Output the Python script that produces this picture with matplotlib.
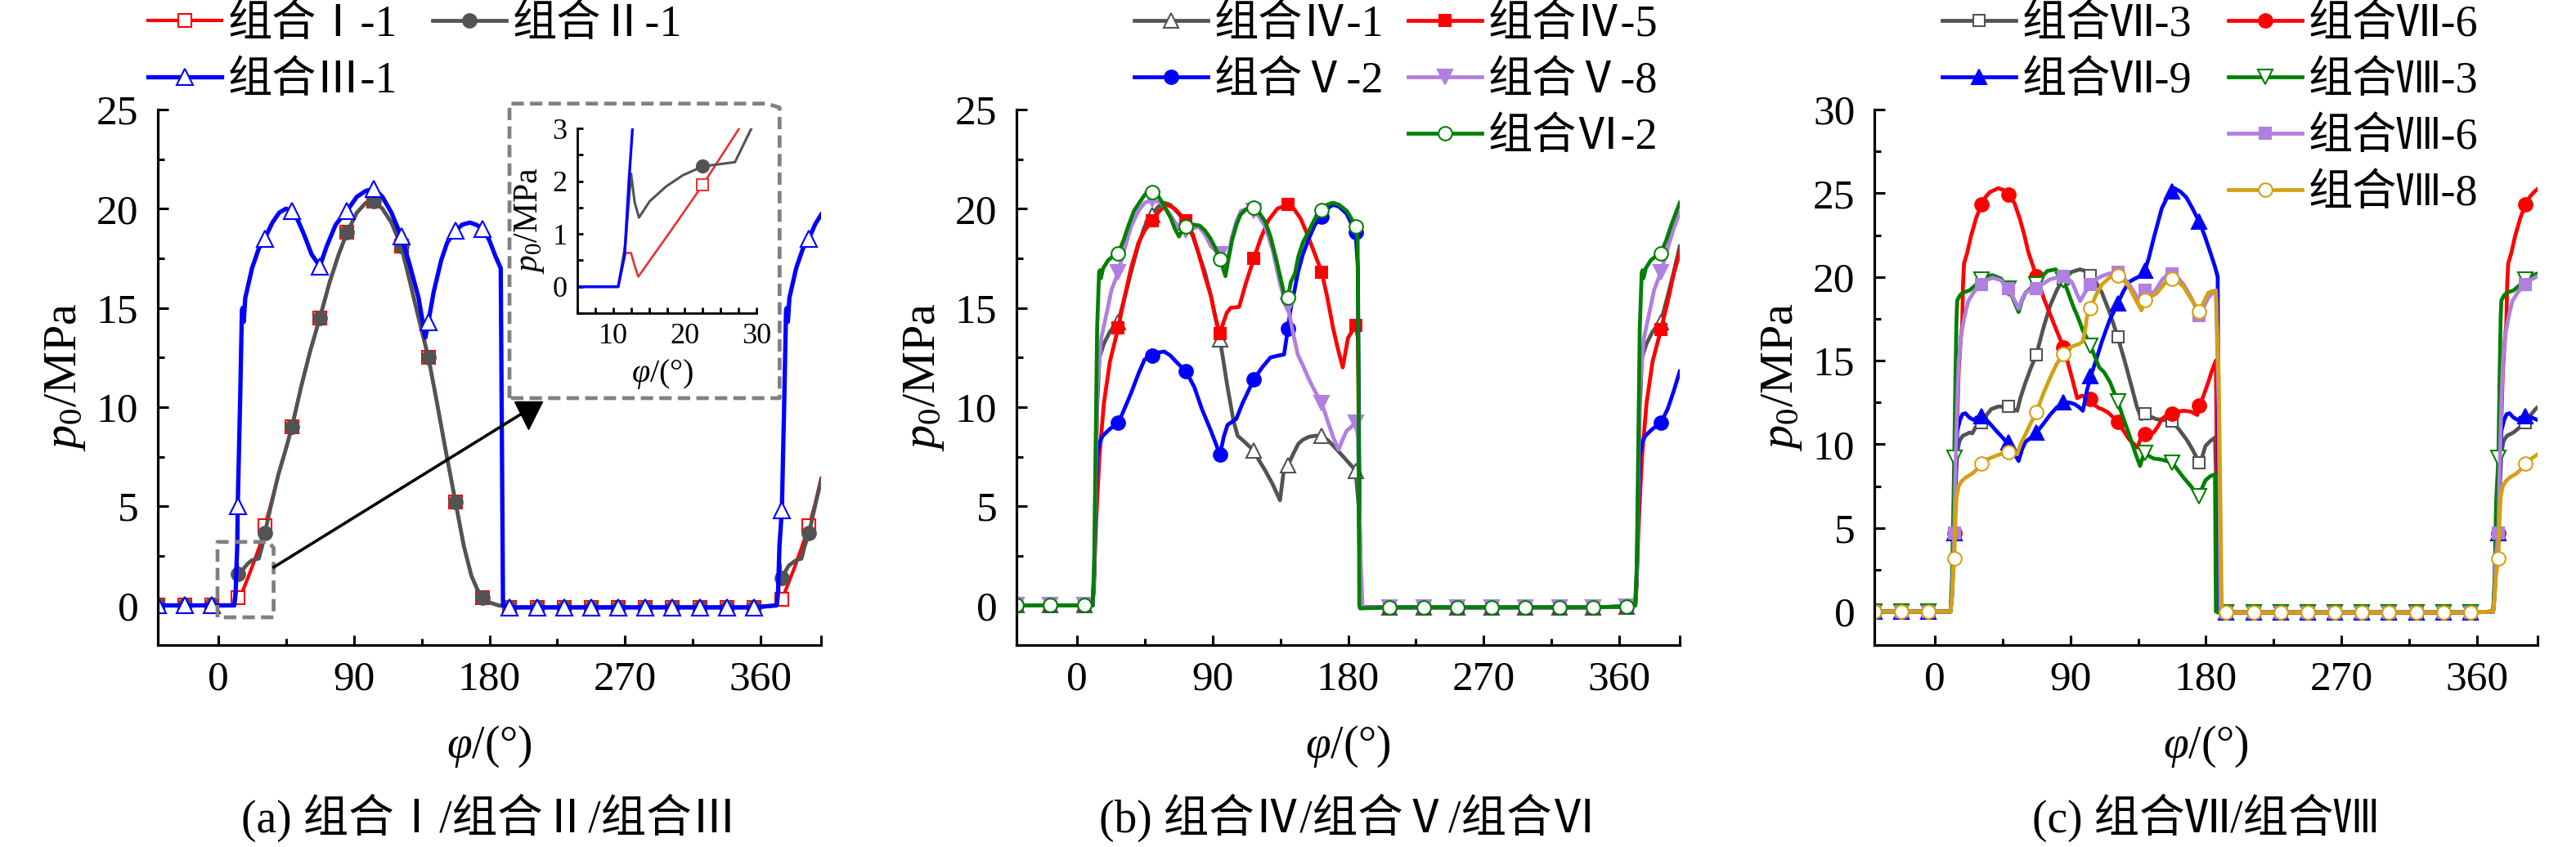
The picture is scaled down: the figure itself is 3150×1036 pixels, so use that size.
import numpy as np
import matplotlib
matplotlib.use("Agg")
import matplotlib.pyplot as plt
from matplotlib.lines import Line2D
from matplotlib.ticker import MultipleLocator

plt.rcParams['font.family'] = ['Liberation Serif', 'Noto Sans CJK SC']
plt.rcParams['mathtext.fontset'] = 'custom'
plt.rcParams['mathtext.rm'] = 'Liberation Serif'
plt.rcParams['mathtext.it'] = 'Liberation Serif:italic'

# ---------------- data ----------------
# marker angles
mark_ac = [-40, -22, -4, 13, 31, 49, 67.5, 85.5, 103.5, 121.5, 139.5, 157.5, 175.5,
           193.5, 211.5, 229.5, 247.5, 265.5, 283.5, 301.5, 319.5, 337.5, 355.5, 374, 392]
mark_b = [-40, -17.5, 5, 27.5, 50, 72.5, 95, 117.5, 140, 162.5, 185,
          207.5, 230, 252.5, 275, 297.5, 320, 342.5, 365, 387.5]

# zero segments (values read at the marker angles)
pre_ac = [(-40, 0), (-22, 0), (-4, 0)]
pre_b = [(-40, 0), (-17.5, 0), (5, 0)]
flat_a = [(193.5, -0.1), (211.5, -0.1), (229.5, -0.1), (247.5, -0.1), (265.5, -0.1),
          (283.5, -0.1), (301.5, -0.1), (319.5, -0.1), (337.5, -0.1), (355.5, -0.1)]
flat_b = [(207.5, -0.1), (230, -0.1), (252.5, -0.1), (275, -0.1), (297.5, -0.1),
          (320, -0.1), (342.5, -0.1), (365, -0.05)]
flat_c = [(193.5, -0.05), (211.5, -0.05), (229.5, -0.05), (247.5, -0.05), (265.5, -0.05),
          (283.5, -0.05), (301.5, -0.05), (319.5, -0.05), (337.5, -0.05), (355.5, -0.05)]

# ---- panel (a) ----
I_1 = pre_ac + [(10.7, 0), (11.7, 0.64), (12.5, 0.64), (13, 0.4), (13.5, 0.19), (18, 1.05),
                (22.5, 1.93), (27.6, 3.0), (31, 4.0), (35, 5.1), (40, 6.6), (45, 7.9), (49, 9.0),
                (55, 11.0), (61, 12.8), (67.5, 14.5), (74, 16.3), (80, 17.7), (85.5, 18.8),
                (92, 19.8), (98, 20.3), (103.5, 20.4), (109, 20.0), (115, 19.3), (121.5, 18.1),
                (127, 16.4), (133, 14.5), (139.5, 12.5), (145, 10.3), (151, 7.8), (157.5, 5.2),
                (163, 3.0), (168, 1.5), (172, 0.8), (175.5, 0.4), (180, 0.15), (186, 0.0)] \
    + flat_a + [(370.6, 0), (371.7, 0.64), (372.5, 0.64), (373.5, 0.19), (374, 0.3),
                (378, 1.05), (382.5, 1.93), (387.5, 3.0), (392, 4.0), (396, 5.1), (400, 6.4)]
II_1 = pre_ac + [(10.7, 0), (11.7, 0.8), (12.5, 2.14), (13, 1.6), (13.6, 1.31), (15.1, 1.62),
                 (17.4, 1.9), (19.7, 2.11), (22.5, 2.28), (27, 2.36), (29.3, 3.0), (31, 3.65),
                 (35, 5.0), (40, 6.6), (45, 7.9), (49, 9.0), (55, 11.0), (61, 12.8), (67.5, 14.5),
                 (74, 16.3), (80, 17.7), (85.5, 18.8), (92, 19.8), (98, 20.3), (103.5, 20.4),
                 (109, 20.0), (115, 19.3), (121.5, 18.1), (127, 16.4), (133, 14.5), (139.5, 12.5),
                 (145, 10.3), (151, 7.8), (157.5, 5.2), (163, 3.0), (168, 1.5), (172, 0.8),
                 (175.5, 0.4), (180, 0.15), (186, 0.0)] \
    + flat_a + [(370.6, 0), (371.6, 0.8), (372.4, 2.1), (373.4, 1.3), (374, 1.4), (378.5, 2.0),
                (382, 2.2), (384, 2.3), (387, 2.35), (389.2, 3.0), (392, 3.65), (396, 5.0),
                (400, 6.3)]
III_1 = pre_ac + [(10.7, 0), (11.6, 0.6), (12.2, 2.0), (12.7, 3.0), (13, 5.0), (14.5, 10),
                  (15.8, 14.9), (16.3, 15.0), (17, 14.3), (18, 15.5), (22.5, 17.0), (27, 18.0),
                  (31, 18.5), (36, 19.3), (40.5, 19.8), (45, 20.0), (49, 19.9), (53, 19.4),
                  (57, 18.7), (62, 17.7), (67.5, 17.1), (72, 18.1), (78, 19.2), (85.5, 19.9),
                  (92, 20.6), (98, 20.9), (103.5, 21.0), (109, 20.6), (115, 19.8), (121.5, 18.6),
                  (127, 17.2), (133, 15.5), (137.5, 13.5), (139.5, 14.3), (143, 15.8), (148, 17.4),
                  (152, 18.3), (157.5, 18.9), (162, 19.2), (167, 19.3), (171, 19.2), (175.5, 19.0),
                  (180, 18.4), (184, 17.6), (187.5, 17.0), (189, 0)] \
    + flat_a + [(370.6, 0), (371.5, 0.7), (372.4, 3.0), (374, 4.8), (375.5, 10), (376.8, 14.9),
                (377.3, 15.0), (378, 14.3), (379, 15.5), (383.5, 17.0), (388, 18.0), (392, 18.5),
                (396, 19.2), (400, 19.7)]

# ---- panel (b) ----
IV_1 = pre_b + [(10.5, 0), (11.5, 1), (12.5, 5), (13.5, 10), (15, 12.5), (18, 13.2), (22, 13.8),
                (27.5, 14.3), (32, 15.6), (36, 16.8), (41, 18.2), (45, 19.1), (50, 19.7),
                (54, 20.1), (58, 20.3), (62, 20.2), (67, 19.8), (72.5, 19.3), (77, 18.6),
                (81, 17.7), (85, 16.8), (89, 15.6), (95, 13.4), (100, 11.0), (104, 9.3),
                (106.7, 8.55), (110.5, 8.3), (117.5, 7.8), (121, 7.3), (125, 6.8), (130, 6.1),
                (134.8, 5.3), (137.5, 6.9), (140, 7.05), (144, 7.7), (147, 8.15), (150, 8.35),
                (154, 8.5), (158, 8.55), (162.5, 8.55), (167, 8.3), (172, 7.9), (178, 7.4),
                (185, 6.8), (187, 5), (188, 0.5), (189, -0.1)] \
    + flat_b + [(370.5, 0), (371.5, 1), (372.5, 5), (373.5, 10), (375, 12.5), (378, 13.2),
                (382, 13.8), (387.5, 14.3), (392, 15.6), (396, 16.8), (400, 18.1)]
IV_5 = pre_b + [(10.5, 0), (11.5, 1.5), (13, 4.5), (15, 7.5), (18, 10.2), (22, 12.3), (27.5, 14.0),
                (31, 15.3), (36, 17.0), (41, 18.3), (45, 18.9), (50, 19.4), (55, 19.9), (60, 20.2),
                (65, 20.0), (72.5, 19.4), (77, 18.7), (81, 17.7), (85, 16.6), (89, 15.6),
                (92, 14.5), (95, 13.7), (97, 14.2), (99.5, 14.75), (102, 15.0), (107.7, 15.05),
                (112, 16.2), (117.5, 17.5), (122, 18.5), (127, 19.4), (133, 20.0), (140, 20.2),
                (144, 20.0), (148.5, 19.5), (153, 18.7), (158, 17.7), (162.5, 16.8), (166, 15.6),
                (170, 14.0), (173, 13.0), (176.4, 12.0), (180, 13.5), (185, 14.1), (186.5, 13.5),
                (187.5, 5), (188.5, 0), (189, -0.1)] \
    + flat_b + [(370.5, 0), (371.5, 1.5), (373, 4.5), (375, 7.5), (378, 10.2), (382, 12.3),
                (387.5, 13.9), (392, 15.3), (396, 16.7), (400, 17.8)]
V_2 = pre_b + [(10.5, 0), (11.5, 1.5), (12.5, 5), (13.5, 7.5), (15, 8.2), (17.2, 8.55), (22, 8.9),
               (27.5, 9.2), (31, 9.8), (36, 10.7), (41, 11.7), (45, 12.4), (50, 12.6), (54, 12.75),
               (58, 12.8), (62, 12.6), (67, 12.2), (72.5, 11.8), (78, 11.0), (83, 9.9), (89, 8.8),
               (95, 7.6), (97.5, 8.5), (100, 9.1), (105.8, 9.4), (110, 10.2), (117.5, 11.4),
               (123, 12.0), (128.5, 12.5), (134, 12.6), (137.5, 12.65), (139, 13.4), (140, 13.95),
               (142, 15.0), (144, 15.7), (146.6, 16.75), (150, 17.7), (154, 18.5), (158, 19.2),
               (162.5, 19.6), (166, 20.0), (170, 20.2), (174, 20.1), (179, 19.75), (185, 18.8),
               (186.5, 17), (187.5, 5), (188.5, 0), (189, -0.1)] \
    + flat_b + [(370.5, 0), (371.5, 1.5), (372.5, 5), (373.5, 7.5), (375, 8.2), (377.2, 8.55),
                (382, 8.9), (387.5, 9.2), (392, 9.9), (396, 10.8), (400, 11.8)]
V_8 = pre_b + [(10.5, 0), (11.5, 1.5), (12.5, 6), (13.5, 11), (16.3, 13.5), (20, 14.8), (23, 15.9),
               (27.5, 16.8), (31, 17.8), (36, 19.1), (41, 19.9), (45, 20.3), (50, 20.45),
               (56, 20.3), (61, 19.8), (67, 19.1), (72.5, 18.9), (77, 19.0), (81, 19.1), (85, 18.7),
               (89, 18.1), (95, 17.7), (97, 17.4), (98.6, 17.1), (101, 17.8), (103, 18.6),
               (106, 19.4), (109, 19.9), (113, 20.0), (117.5, 19.9), (121, 19.6), (125, 19.1),
               (130, 17.9), (134, 16.5), (137, 15.6), (140, 15.1), (143, 13.9), (146.6, 12.65),
               (150, 12.1), (154, 11.4), (158, 10.8), (162.5, 10.2), (166, 9.4), (170, 8.5),
               (173.7, 7.85), (176, 8.3), (179, 8.8), (185, 9.2), (186.5, 8.5), (188, 3),
               (189.5, 0), (190.5, -0.1)] \
    + flat_b + [(370.5, 0), (371.5, 1.5), (372.5, 6), (373.5, 11), (376.3, 13.5), (380, 14.8),
                (383, 15.9), (387.5, 16.8), (392, 18.0), (396, 19.0), (400, 19.8)]
VI_2 = pre_b + [(10.5, 0), (11.5, 2), (12.5, 8), (13.5, 14), (14.8, 16.8), (15.4, 16.9), (16, 16.5),
                (17.5, 17.0), (20.8, 17.4), (24, 17.6), (27.5, 17.75), (31, 18.4), (34.5, 19.2),
                (38, 19.9), (41.5, 20.3), (45, 20.7), (50, 20.85), (53, 20.75), (56, 20.4),
                (59, 20.0), (62.5, 19.5), (65, 19.0), (67.8, 18.6), (70, 18.9), (72.5, 19.1),
                (77, 19.2), (81.5, 19.15), (85, 18.9), (88.7, 18.5), (92, 18.0), (95, 17.45),
                (97, 17.0), (98.6, 16.6), (100.5, 17.4), (103, 18.4), (106, 19.2), (108.6, 19.7),
                (112, 19.95), (117.5, 20.05), (121, 19.8), (125, 19.35), (128.5, 18.6),
                (132, 17.55), (135.5, 16.4), (139, 15.2), (140, 15.5), (142, 16.3), (144.8, 16.75),
                (147, 17.6), (150, 18.3), (153.8, 18.85), (158, 19.5), (162.5, 19.95), (166, 20.2),
                (170, 20.3), (174, 20.2), (179, 19.9), (183, 19.4), (185, 19.1), (186.3, 18.5),
                (187, 10), (187.4, 0), (188, -0.15)] \
    + flat_b + [(370.5, 0), (371.5, 2), (372.5, 8), (373.5, 14), (374.8, 16.8), (375.4, 16.9),
                (376, 16.5), (377.5, 17.0), (380.8, 17.4), (384, 17.6), (387.5, 17.75),
                (391, 18.4), (394.5, 19.2), (398, 19.9), (400, 20.3)]

# ---- panel (c) ----
VII_3 = pre_ac + [(10.5, 0), (11.5, 1), (12.5, 3.5), (13, 4.7), (14, 7.5), (15, 9.5), (16.5, 10.2),
                  (18.6, 10.5), (21, 10.6), (23.2, 10.7), (25, 10.65), (27, 11.0), (31, 11.3),
                  (34, 11.7), (37.6, 12.1), (42, 12.25), (49, 12.25), (52, 12.1), (54.8, 12.0),
                  (57, 12.8), (60.3, 13.7), (64, 14.6), (67.5, 15.35), (72, 16.9), (76.5, 18.25),
                  (81, 19.2), (85.5, 19.9), (91, 20.3), (96.5, 20.45), (100, 20.35), (103.5, 20.1),
                  (107, 19.7), (111, 19.05), (116, 17.9), (121.5, 16.4), (126, 15.0),
                  (130.8, 13.4), (134, 12.3), (137.2, 11.5), (139.5, 11.85), (142, 11.7),
                  (147, 11.5), (152, 11.45), (157.5, 11.4), (162, 10.9), (167, 10.3), (171, 9.7),
                  (175.5, 8.9), (177, 9.1), (179.7, 9.9), (183, 10.2), (186, 10.4), (187.3, 6),
                  (188, 0), (189, -0.05)] \
    + flat_c + [(370.5, 0), (371.5, 1), (372.5, 3.5), (374, 4.7), (375, 7.5), (376, 9.5),
                (377.5, 10.2), (379.6, 10.5), (384, 10.7), (388, 11.0), (392, 11.3),
                (395, 11.7), (398.6, 12.1), (400, 12.2)]
VII_6 = pre_ac + [(10.5, 0), (11.5, 1), (12.5, 3.5), (13, 4.7), (14.5, 10), (16, 14.5), (17.5, 16.5),
                  (18.3, 17.1), (18.8, 19.5), (19.5, 20.8), (21.5, 21.4), (24, 22.4), (27.5, 23.5),
                  (31, 24.35), (34, 24.8), (36.7, 25.07), (42.2, 25.3), (45.5, 25.2), (49, 24.9),
                  (53, 24.4), (56.6, 23.45), (59.5, 22.5), (62.1, 21.5), (67.5, 20.05),
                  (72.9, 18.6), (76.5, 17.8), (80.2, 16.95), (85.5, 15.8), (88, 15.0), (91, 14.0),
                  (94.6, 12.75), (97.4, 12.9), (100, 12.85), (103.5, 12.7), (106, 12.35),
                  (109.1, 12.15), (111, 12.1), (115, 11.9), (121.5, 11.35), (125, 10.85),
                  (129, 10.3), (134.5, 9.8), (136.5, 10.3), (139.5, 10.6), (142, 10.55),
                  (145.3, 10.7), (148, 11.05), (150.7, 11.5), (154, 11.75), (157.5, 11.85),
                  (161, 11.95), (165.2, 12.0), (170, 11.95), (174.3, 11.75), (175.5, 12.3),
                  (178, 12.8), (181.5, 13.7), (184, 14.4), (186.6, 15.0), (187.2, 8), (187.8, 0),
                  (189, -0.05)] \
    + flat_c + [(370.5, 0), (371.5, 1), (372.5, 3.5), (374, 4.7), (375.5, 10), (377, 14.5),
                (378.5, 16.5), (379.3, 17.2), (379.8, 19.5), (380.5, 20.8), (382.5, 21.4),
                (385, 22.4), (388.5, 23.5), (392, 24.35), (395, 24.8), (398, 25.1), (400, 25.25)]
VII_9 = pre_ac + [(10.5, 0), (11.5, 1), (12.5, 3.5), (13, 4.7), (14, 8.5), (15, 10.8), (16.8, 11.45),
                  (18.5, 11.8), (20.4, 11.85), (23, 11.6), (25.9, 11.45), (28, 11.6), (31, 11.7),
                  (35, 11.4), (40.4, 10.85), (44, 10.5), (47.6, 10.15), (49, 10.1), (52, 9.6),
                  (55.7, 9.0), (58, 9.7), (60.3, 10.15), (64, 10.4), (67.5, 10.7), (72, 11.2),
                  (76.5, 11.75), (81, 12.2), (85.5, 12.5), (89, 12.5), (92.8, 12.4), (96, 12.2),
                  (98.3, 12.0), (100, 12.7), (101, 13.2), (103.5, 14.05), (107, 15.0),
                  (111, 16.15), (116, 17.4), (121.5, 18.4), (125, 19.1), (129, 19.7), (133, 19.9),
                  (136.3, 20.05), (139.5, 20.4), (142, 21.1), (145.3, 22.3), (148, 23.2),
                  (150.7, 24.1), (154, 24.7), (157.5, 25.1), (159, 25.3), (163, 25.1),
                  (167, 24.75), (171, 24.1), (175.5, 23.3), (179, 22.5), (183.3, 21.35),
                  (186, 20.6), (187.8, 20.0), (188.3, 10), (188.8, 0), (190, -0.05)] \
    + flat_c + [(370.5, 0), (371.5, 1), (372.5, 3.5), (374, 4.7), (375, 8.5), (376, 10.8),
                (377.8, 11.45), (379.5, 11.8), (381.4, 11.85), (384, 11.6), (386.9, 11.45),
                (389, 11.6), (392, 11.7), (396, 11.6), (400, 11.45)]
VIII_3 = pre_ac + [(10.5, 0), (11.5, 2), (12.5, 6.5), (13, 9.2), (13.8, 14), (14.5, 17.5), (15, 18.6),
                   (16.8, 18.9), (18.6, 19.05), (23.2, 19.2), (27, 19.5), (31, 19.85),
                   (34.5, 20.05), (38.5, 20.1), (44, 19.9), (49, 19.3), (52, 18.7), (55.7, 17.9),
                   (58, 18.6), (60.3, 19.05), (64, 19.35), (67.5, 19.55), (71, 20.0),
                   (74.7, 20.35), (80.2, 20.45), (83, 20.2), (85.5, 19.8), (88.5, 19.1),
                   (91.9, 18.25), (95, 17.6), (98.3, 16.8), (103.5, 15.9), (106, 15.3),
                   (109.1, 14.6), (112.5, 14.3), (116.4, 13.7), (121.5, 12.55), (125, 11.6),
                   (129, 10.6), (133, 9.5), (136.3, 8.7), (138, 9.2), (139.5, 9.5), (142, 9.3),
                   (145.3, 9.15), (150.7, 9.08), (154, 9.0), (157.5, 8.9), (161, 8.5),
                   (165.2, 8.0), (170, 7.5), (174, 7.0), (175.5, 6.9), (177.5, 7.4),
                   (179.7, 7.85), (183, 8.1), (186, 8.2), (186.3, 4), (186.6, 0), (188, -0.05)] \
    + flat_c + [(370.5, 0), (371.5, 2), (372.5, 6.5), (374, 9.2), (374.8, 14), (375.5, 17.5),
                (376, 18.6), (377.8, 18.9), (379.6, 19.05), (384.2, 19.2), (388, 19.5),
                (392, 19.85), (395.5, 20.05), (400, 20.2)]
VIII_6 = pre_ac + [(10.5, 0), (11.5, 1), (12.5, 3.5), (13, 4.7), (14, 9), (15, 12.5), (16, 15),
                   (17.7, 16.6), (20, 17.7), (22.3, 18.55), (26, 19.1), (31, 19.55), (34, 19.8),
                   (38.5, 19.95), (44, 19.8), (49, 19.3), (52, 18.8), (55.7, 18.1), (58, 18.7),
                   (60.3, 19.05), (64, 19.25), (67.5, 19.3), (72, 19.6), (76.5, 19.85),
                   (81, 19.95), (85.5, 20.05), (91, 19.7), (96.5, 18.55), (100, 19.1),
                   (103.5, 19.55), (107, 19.85), (111, 20.05), (116, 20.2), (121.5, 20.3),
                   (125, 20.0), (129, 19.55), (133, 19.0), (136.3, 18.4), (139.5, 19.2),
                   (142, 19.1), (145.3, 19.05), (148, 19.4), (150.7, 19.8), (154, 20.1),
                   (157.5, 20.2), (161, 20.0), (165.2, 19.55), (170, 18.8), (174, 18.0),
                   (175.5, 17.7), (178, 18.1), (181.5, 18.75), (184, 19.0), (186.6, 19.2),
                   (188.5, 12), (189.6, 0), (191, -0.05)] \
    + flat_c + [(370.5, 0), (371.5, 1), (372.5, 3.5), (374, 4.7), (375, 9), (376, 12.5), (377, 15),
                (378.7, 16.6), (381, 17.7), (383.3, 18.55), (387, 19.1), (392, 19.55),
                (395, 19.8), (400, 20.05)]
VIII_8 = pre_ac + [(10.5, 0), (11.5, 0.8), (12.3, 2.0), (13, 3.2), (13.8, 5.5), (14.5, 6.8),
                   (15.9, 7.5), (18, 7.8), (20.4, 8.0), (25, 8.25), (28, 8.5), (31, 8.85), (35, 9.1),
                   (40.4, 9.3), (45, 9.45), (49, 9.55), (52, 9.5), (54.8, 9.4), (57, 10.0),
                   (60.3, 10.6), (64, 11.3), (67.5, 11.9), (72, 13.0), (76.5, 13.95), (81, 14.8),
                   (85.5, 15.4), (89, 15.75), (92.8, 15.9), (96, 16.0), (98.3, 16.15), (100, 16.9),
                   (101, 17.6), (103.5, 18.15), (107, 18.9), (111, 19.55), (116, 19.95),
                   (121.5, 20.1), (125, 19.85), (129, 19.4), (133, 18.7), (137.2, 18.0),
                   (139.5, 18.6), (143, 18.8), (147.1, 19.0), (150.7, 19.4), (154, 19.75),
                   (157.5, 19.9), (161, 19.75), (165.2, 19.4), (170, 18.7), (175.5, 17.95),
                   (178, 18.4), (181.5, 19.05), (184, 19.15), (186.6, 19.15), (188.5, 14),
                   (190.5, 0), (192, -0.05)] \
    + flat_c + [(370.5, 0), (371.5, 0.8), (372.3, 2.0), (374, 3.2), (374.8, 5.5), (375.5, 6.8),
                (376.9, 7.5), (379, 7.8), (381.4, 8.0), (386, 8.25), (389, 8.5), (392, 8.85),
                (396, 9.15), (400, 9.4)]

# ---- labels ----
labels_a = ['组合Ⅰ-1', '组合Ⅱ-1', '组合Ⅲ-1']
labels_b = ['组合Ⅳ-1', '组合Ⅳ-5', '组合Ⅴ-2', '组合Ⅴ-8', '组合Ⅵ-2']
labels_c = ['组合Ⅶ-3', '组合Ⅶ-6', '组合Ⅶ-9', '组合Ⅷ-3', '组合Ⅷ-6', '组合Ⅷ-8']
captions = ['(a) 组合Ⅰ/组合Ⅱ/组合Ⅲ', '(b) 组合Ⅳ/组合Ⅴ/组合Ⅵ', '(c) 组合Ⅶ/组合Ⅷ']
x_ticks = [0, 90, 180, 270, 360]

# ---------------- styles ----------------
RED, GRAY, BLUE = '#ff0000', '#535353', '#0000ff'
PURPLE, GREEN, GOLD = '#b07fe0', '#008000', '#d4a014'


def sty(color, marker, filled, ms, lw=3.4):
    return dict(color=color, lw=lw, marker=marker, ms=ms,
                mfc=color if filled else 'white', mec=color,
                mew=1.5)


styles_a = [sty(RED, 's', False, 11.5, 3.0), sty(GRAY, 'o', True, 12, 3.4), sty(BLUE, '^', False, 14, 3.8)]
styles_b = [sty(GRAY, '^', False, 13), sty(RED, 's', True, 10.5), sty(BLUE, 'o', True, 12),
            sty(PURPLE, 'v', True, 13), sty(GREEN, 'o', False, 12)]
styles_c = [sty(GRAY, 's', False, 10.5), sty(RED, 'o', True, 12), sty(BLUE, '^', True, 13),
            sty(GREEN, 'v', False, 13), sty(PURPLE, 's', True, 10.5), sty(GOLD, 'o', False, 12)]

series_a = [I_1, II_1, III_1]
series_b = [IV_1, IV_5, V_2, V_8, VI_2]
series_c = [VII_3, VII_6, VII_9, VIII_3, VIII_6, VIII_8]

W, H = 3150, 1036
fig = plt.figure(figsize=(W / 100, H / 100), dpi=100)

lefts = [193, 1243, 2292]
ax_w, top_px, bot_px = 811, 134, 789
ylims = [(-2, 25), (-2, 25), (-2, 30)]
FS_TICK, FS_XLAB, FS_YLAB, FS_LEG, FS_CAP = 37, 40, 42, 39, 40

axes = []
for i in range(3):
    ax = fig.add_axes([lefts[i] / W, 1 - bot_px / H, ax_w / W, (bot_px - top_px) / H])
    axes.append(ax)
    ax.set_xlim(-40, 400)
    ax.set_ylim(*ylims[i])
    for s in ['top', 'right']:
        ax.spines[s].set_visible(False)
    for s in ['left', 'bottom']:
        ax.spines[s].set_linewidth(2.3)
    ax.set_xticks(x_ticks + [400], [str(t) for t in x_ticks] + [''])
    ax.xaxis.set_minor_locator(MultipleLocator(45))
    ax.yaxis.set_major_locator(MultipleLocator(5))
    ax.yaxis.set_minor_locator(MultipleLocator(2.5))
    ax.tick_params(which='both', direction='in', width=2.2, labelsize=FS_TICK)
    ax.tick_params(which='major', length=9)
    ax.tick_params(which='minor', length=5.5)
    ax.tick_params(axis='x', pad=14)
    ax.tick_params(axis='y', pad=17)
    cx = (lefts[i] + ax_w / 2) / W
    fig.text(cx, 1 - 913 / H, r'$\varphi$/(°)', ha='center', va='center', fontsize=FS_XLAB)
    fig.text((lefts[i] - 113) / W, 1 - (top_px + bot_px) / 2 / H, r'$p_0$/MPa', rotation=90,
             ha='center', va='center', fontsize=FS_YLAB)
    fig.text(cx, 1 - 1000 / H, captions[i], ha='center', va='center', fontsize=FS_CAP)


def draw(ax, series, styles, marks):
    hs = []
    for pts, st in zip(series, styles):
        arr = np.array(pts, dtype=float)
        mask = np.isin(arr[:, 0], marks)
        h, = ax.plot(arr[:, 0], arr[:, 1], markevery=list(mask), **st)
        hs.append(h)
    return hs


draw(axes[0], series_a, styles_a, mark_ac)
draw(axes[1], series_b, styles_b, mark_b)
draw(axes[2], series_c, styles_c, mark_ac)


def leg(handle_style, label, x_px, y_px):
    h = Line2D([], [], **handle_style)
    fig.legend([h], [label], loc='center left', bbox_to_anchor=(x_px / W, 1 - y_px / H),
               frameon=False, borderpad=0, borderaxespad=0, handlelength=1.67,
               handletextpad=0.14, fontsize=FS_LEG)


rows = [31, 100, 169, 238]
# panel a: row-major 2 columns
leg(styles_a[0], labels_a[0], 181, rows[0])
leg(styles_a[1], labels_a[1], 529, rows[0])
leg(styles_a[2], labels_a[2], 181, rows[1])
# panel b
leg(styles_b[0], labels_b[0], 1387, rows[0])
leg(styles_b[1], labels_b[1], 1722, rows[0])
leg(styles_b[2], labels_b[2], 1387, rows[1])
leg(styles_b[3], labels_b[3], 1722, rows[1])
leg(styles_b[4], labels_b[4], 1722, rows[2])
# panel c
leg(styles_c[0], labels_c[0], 2375, rows[0])
leg(styles_c[1], labels_c[1], 2725, rows[0])
leg(styles_c[2], labels_c[2], 2375, rows[1])
leg(styles_c[3], labels_c[3], 2725, rows[1])
leg(styles_c[4], labels_c[4], 2725, rows[2])
leg(styles_c[5], labels_c[5], 2725, rows[3])

# ---- zoom boxes and arrow in panel (a) ----
axa = axes[0]
box_small_x = [-0.4, -0.4, 33.5, 36.8, 36.8, -0.4]
box_small_y = [-0.6, 3.2, 3.2, 2.9, -0.6, -0.6]
box_big_x = [193.3, 193.3, 364, 372.5, 372.5, 193.3]
box_big_y = [10.45, 25.3, 25.3, 25.1, 10.45, 10.45]
for bx, by in [(box_small_x, box_small_y), (box_big_x, box_big_y)]:
    axa.plot(bx, by, color='#808080', lw=3.4, ls=(0, (3.2, 1.6)), clip_on=False, zorder=5)
axa.plot([37, 200], [1.93, 9.6], color='black', lw=2.6, zorder=5)
axa.plot([206], [9.6], marker='v', ms=24, color='black', zorder=6)

# ---- inset ----
axi = fig.add_axes([706 / W, 1 - 383 / H, 219 / W, (383 - 157) / H])
axi.set_xlim(5, 30)
axi.set_ylim(-0.5, 3)
for s in ['top', 'right']:
    axi.spines[s].set_visible(False)
for s in ['left', 'bottom']:
    axi.spines[s].set_linewidth(2.0)
axi.xaxis.set_major_locator(MultipleLocator(10))
axi.xaxis.set_minor_locator(MultipleLocator(2.5))
axi.yaxis.set_major_locator(MultipleLocator(1))
axi.yaxis.set_minor_locator(MultipleLocator(0.5))
axi.tick_params(which='both', direction='in', width=2.0, length=5, labelsize=26)
axi.tick_params(axis='x', pad=9)
axi.tick_params(axis='y', pad=9)
inset_cols = [('#e83030', 1.9), (GRAY, 2.2), (BLUE, 2.4)]
inset_marks = [('s', False, 10), ('o', True, 11), (None, False, 0)]
for pts, (c, lw), (m, filled, ms) in zip(series_a, inset_cols, inset_marks):
    arr = np.array(pts, dtype=float)
    mask = np.isin(arr[:, 0], [22.5])
    axi.plot(arr[:, 0], arr[:, 1], color=c, lw=lw, marker=m, ms=ms,
             mfc=c if filled else 'white', mec=c, mew=1.4, markevery=list(mask))
fig.text(810 / W, 1 - 458 / H, r'$\varphi$/(°)', ha='center', va='center', fontsize=29)
fig.text(648 / W, 1 - 270 / H, r'$p_0$/MPa', rotation=90, ha='center', va='center', fontsize=30)

fig.savefig('out.png', dpi=100)
